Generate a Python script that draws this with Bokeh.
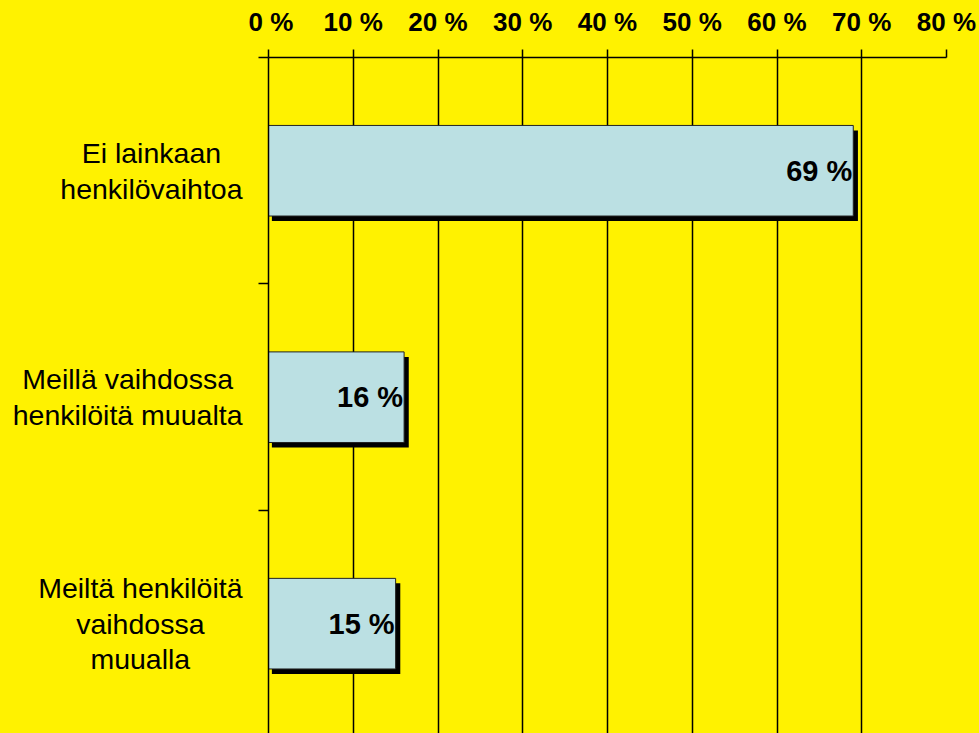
from bokeh.plotting import figure
from bokeh.layouts import row
from bokeh.models import Range1d, FixedTicker, ColumnDataSource
from bokeh.transform import dodge
from bokeh.core.properties import value
from bokeh.embed import file_html
from bokeh.resources import INLINE

# ---- data ----
categories = [
    "Ei lainkaan\nhenkilövaihtoa",
    "Meillä vaihdossa\nhenkilöitä muualta",
    "Meiltä henkilöitä\nvaihdossa\nmuualla",
]
values = [69, 16, 15]
positions = [0.5, 1.5, 2.5]
bar_labels = ["69 %", "16 %", "15 %"]
x_ticks = [0, 10, 20, 30, 40, 50, 60, 70, 80]
x_tick_labels = ["0 %", "10 %", "20 %", "30 %", "40 %", "50 %", "60 %", "70 %", "80 %"]
category_bounds = [0, 1, 2, 3]

YELLOW = "#FFF200"
BAR = "#BBE0E3"
FONT = "Liberation Sans"

src = ColumnDataSource(dict(y=positions, v=values, lab=bar_labels))
cat_src = ColumnDataSource(dict(y=positions, cat=categories, x=[1, 1, 1]))

y_range = Range1d(2.985, 0)

p = figure(
    width=731, height=733,
    x_range=Range1d(0, 80), y_range=y_range,
    x_axis_location="above",
    output_backend="svg", toolbar_location=None,
    min_border_left=20, min_border_right=33, min_border_top=57, min_border_bottom=0,
)
p.background_fill_color = YELLOW
p.border_fill_color = YELLOW
p.outline_line_color = None

# x axis (top)
xa = p.xaxis[0]
xa.ticker = FixedTicker(ticks=x_ticks)
xa.major_label_overrides = {t: l for t, l in zip(x_ticks, x_tick_labels)}
xa.major_tick_in = 0
xa.major_tick_out = 8
xa.minor_tick_line_color = None
xa.axis_line_width = 1.5
xa.major_tick_line_width = 1.5
xa.axis_line_color = "black"
xa.major_label_text_font = FONT
xa.major_label_text_font_style = "bold"
xa.major_label_text_font_size = "26px"
xa.major_label_text_color = "black"
xa.major_label_standoff = 13

# y axis (left): only tick marks at category boundaries (as minor ticks, so no labels)
ya = p.yaxis[0]
ya.ticker = FixedTicker(ticks=[], minor_ticks=category_bounds)
ya.major_tick_line_color = None
ya.minor_tick_in = 0
ya.minor_tick_out = 10
ya.minor_tick_line_width = 1.5
ya.minor_tick_line_color = "black"
ya.axis_line_width = 1.5
ya.axis_line_color = "black"

p.xgrid.ticker = FixedTicker(ticks=x_ticks)
p.xgrid.grid_line_color = "black"
p.xgrid.grid_line_width = 1.5
p.ygrid.grid_line_color = None

# shadow
p.hbar(y=dodge("y", 0.022), left=0.4, right=dodge("v", 0.55), height=0.4,
       fill_color="black", line_color=None, source=src)
# bars
p.hbar(y="y", left=0, right="v", height=0.4, fill_color=BAR,
       line_color="#222222", line_width=1, source=src)
# value labels
p.text(x="v", y="y", text="lab", text_align="right", text_baseline="middle",
       text_font=value(FONT), text_font_style="bold", text_font_size="29px",
       text_color="black", x_offset=-1, source=src)

# category labels panel (left)
lf = figure(
    width=248, height=733,
    x_range=Range1d(0, 1), y_range=y_range,
    output_backend="svg", toolbar_location=None,
    min_border_left=0, min_border_right=0, min_border_top=57, min_border_bottom=0,
)
lf.axis.visible = False
lf.grid.grid_line_color = None
lf.background_fill_color = YELLOW
lf.border_fill_color = YELLOW
lf.outline_line_color = None
lf.text(x="x", y="y", text="cat", source=cat_src, text_align="center",
        anchor="center_right", text_baseline="middle", x_offset=-6,
        text_font=value(FONT), text_font_size="28.5px", text_line_height=1.12,
        text_color="black")

layout = row(lf, p, spacing=0, styles={"background-color": YELLOW})
open("out.html", "w").write(file_html(layout, INLINE))
